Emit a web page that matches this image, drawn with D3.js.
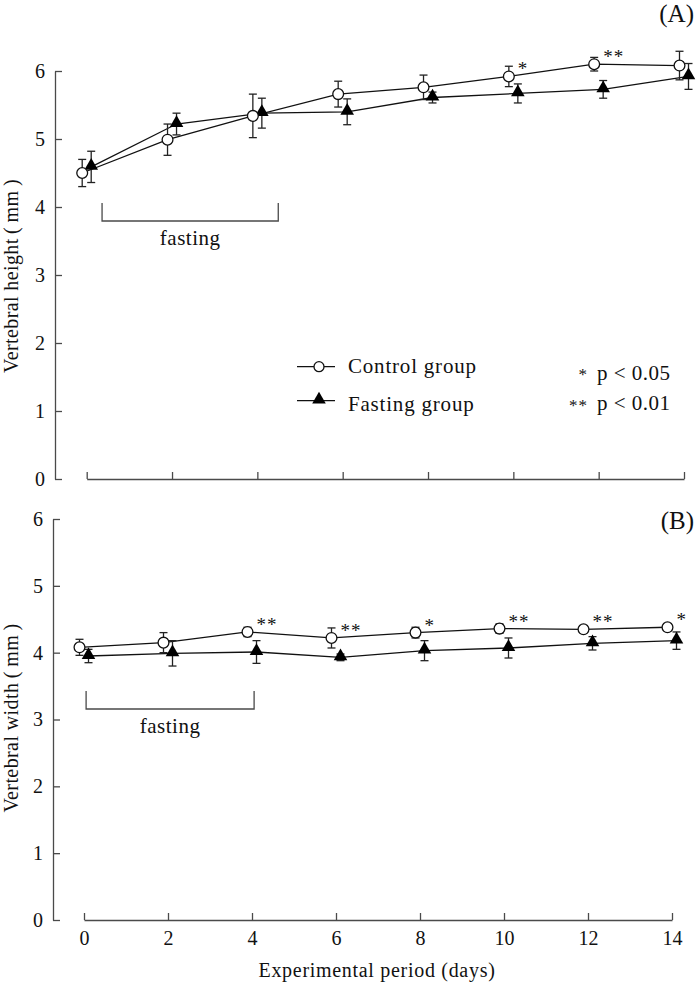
<!DOCTYPE html>
<html><head><meta charset="utf-8">
<script src="https://cdn.jsdelivr.net/npm/d3@7"></script>
<style>
body{margin:0;background:#fff;}
text{font-family:"Liberation Serif","Times New Roman",serif;fill:#111;}
</style></head>
<body><svg id="chart" width="696" height="983"></svg>
<script>
// ---------- data ----------
const days = [0, 2, 4, 6, 8, 10, 12, 14];
const yTickValues = [0, 1, 2, 3, 4, 5, 6];

const heightControl    = [4.50, 4.99, 5.34, 5.66, 5.76, 5.92, 6.10, 6.08];
const heightControlErr = [0.20, 0.23, 0.32, 0.19, 0.18, 0.15, 0.10, 0.21];
const heightFasting    = [4.59, 5.22, 5.38, 5.40, 5.61, 5.67, 5.73, 5.92];
const heightFastingErr = [0.23, 0.16, 0.22, 0.19, 0.08, 0.14, 0.13, 0.19];
const heightSig        = ["", "", "", "", "", "*", "**", ""];

const widthControl     = [4.08, 4.15, 4.31, 4.22, 4.30, 4.36, 4.35, 4.38];
const widthControlErr  = [0.12, 0.15, 0.07, 0.15, 0.08, 0.07, 0.05, 0.05];
const widthFasting     = [3.95, 3.99, 4.01, 3.93, 4.03, 4.07, 4.14, 4.18];
const widthFastingErr  = [0.10, 0.19, 0.17, 0.05, 0.15, 0.15, 0.10, 0.13];
const widthSig         = ["", "", "**", "**", "*", "**", "**", "*"];

const seriesNames = ["Control group", "Fasting group"];
const pLabels = [["*", "p < 0.05"], ["**", "p < 0.01"]];

// ---------- drawing ----------
const svg = d3.select("#chart");
const AXIS = "#4a4a4a";
const OFF = 4.5;

function panel(cfg) {
  const g = svg.append("g");
  const x = d3.scaleLinear().domain([0, 14]).range(cfg.xr);
  const y = d3.scaleLinear().domain([0, 6]).range(cfg.yr);

  // y axis
  const ya = g.append("g").attr("transform", `translate(${cfg.ax},0)`)
    .call(d3.axisLeft(y).tickValues(yTickValues).tickSizeInner(-7).tickSizeOuter(0).tickPadding(10).tickFormat(d3.format("d")));
  ya.selectAll("path,line").attr("stroke", AXIS).attr("stroke-width", 1.3);
  ya.selectAll("text").attr("font-size", 20).style("font-family", "Liberation Serif").attr("fill", "#111");

  // x axis
  const xa = g.append("g").attr("transform", `translate(0,${cfg.yr[0]})`)
    .call(d3.axisBottom(x).tickValues(days).tickSizeInner(-7).tickSizeOuter(0).tickPadding(11)
      .tickFormat(cfg.xlabels ? d3.format("d") : ""));
  xa.selectAll("path,line").attr("stroke", AXIS).attr("stroke-width", 1.3);
  xa.selectAll("text").attr("font-size", 20).style("font-family", "Liberation Serif").attr("fill", "#111");

  const ctrl = days.map((d, i) => ({d, v: cfg.c[i], e: cfg.ce[i], s: cfg.sig[i], px: x(d) - OFF}));
  const fast = days.map((d, i) => ({d, v: cfg.f[i], e: cfg.fe[i], px: x(d) + OFF}));

  const line = d3.line().x(p => p.px).y(p => y(p.v));
  [ctrl, fast].forEach(s => g.append("path").datum(s).attr("d", line)
    .attr("fill", "none").attr("stroke", "#111").attr("stroke-width", 1.3));

  // error bars
  [ctrl, fast].forEach(s => {
    const eb = g.append("g").selectAll("g").data(s).join("g");
    eb.append("line").attr("x1", p => p.px).attr("x2", p => p.px)
      .attr("y1", p => y(p.v - p.e)).attr("y2", p => y(p.v + p.e));
    eb.append("line").attr("x1", p => p.px - 4).attr("x2", p => p.px + 4)
      .attr("y1", p => y(p.v + p.e)).attr("y2", p => y(p.v + p.e));
    eb.append("line").attr("x1", p => p.px - 4).attr("x2", p => p.px + 4)
      .attr("y1", p => y(p.v - p.e)).attr("y2", p => y(p.v - p.e));
    eb.selectAll("line").attr("stroke", "#222").attr("stroke-width", 1.3);
  });

  // markers
  g.append("g").selectAll("path").data(fast).join("path")
    .attr("transform", p => `translate(${p.px},${y(p.v) - 1})`)
    .attr("d", d3.symbol(d3.symbolTriangle, 80)).attr("fill", "#000");
  g.append("g").selectAll("circle").data(ctrl).join("circle")
    .attr("cx", p => p.px).attr("cy", p => y(p.v)).attr("r", 5.4)
    .attr("fill", "#fff").attr("stroke", "#111").attr("stroke-width", 1.3);

  // significance stars
  g.append("g").selectAll("text").data(ctrl.filter(p => p.s)).join("text")
    .attr("x", p => p.px + 9).attr("y", p => y(p.v) - 1)
    .attr("font-size", 19).attr("fill", "#444").style("letter-spacing", "1px").text(p => p.s);

  // fasting bracket
  const b0 = x(cfg.br[0]), b1 = x(cfg.br[1]);
  g.append("path").attr("d", `M${b0},${cfg.by}V${cfg.by + 18}H${b1}V${cfg.by}`)
    .attr("fill", "none").attr("stroke", AXIS).attr("stroke-width", 1.3);
  g.append("text").attr("x", (b0 + b1) / 2).attr("y", cfg.by + 42).attr("text-anchor", "middle")
    .attr("font-size", 21).style("letter-spacing", "0.5px").text("fasting");

  // panel letter
  g.append("text").attr("x", 694).attr("y", cfg.ly).attr("text-anchor", "end")
    .attr("font-size", 25).text(cfg.letter);

  // y title
  g.append("text").attr("transform", `translate(18,${cfg.tc}) rotate(-90)`).attr("text-anchor", "middle")
    .attr("font-size", 20).style("letter-spacing", "0.4px").text(cfg.title);

  return {x, y};
}

panel({xr: [86.7, 684], yr: [479, 71], ax: 55, c: heightControl, ce: heightControlErr,
  f: heightFasting, fe: heightFastingErr, sig: heightSig, xlabels: false,
  br: [0.36, 4.49], by: 203, letter: "(A)", ly: 22, title: "Vertebral height\u2009(\u2009mm\u2009)", tc: 276});
panel({xr: [84, 672], yr: [920, 519], ax: 53, c: widthControl, ce: widthControlErr,
  f: widthFasting, fe: widthFastingErr, sig: widthSig, xlabels: true,
  br: [0.05, 4.05], by: 691, letter: "(B)", ly: 529, title: "Vertebral width\u2009(\u2009mm\u2009)", tc: 718});

// x title
svg.append("text").attr("x", 377).attr("y", 977).attr("text-anchor", "middle")
  .attr("font-size", 20).style("letter-spacing", "0.7px").text("Experimental period (days)");

// legend
const lg = svg.append("g");
const legY = [366.7, 400.7];
const legBase = [373.3, 410.7];
seriesNames.forEach((name, i) => {
  lg.append("line").attr("x1", 297).attr("x2", 335).attr("y1", legY[i]).attr("y2", legY[i])
    .attr("stroke", "#111").attr("stroke-width", 1.3);
  if (i === 0) {
    lg.append("circle").attr("cx", 319).attr("cy", legY[i]).attr("r", 5)
      .attr("fill", "#fff").attr("stroke", "#111").attr("stroke-width", 1.3);
  } else {
    lg.append("path").attr("transform", `translate(319,${legY[i] - 1})`)
      .attr("d", d3.symbol(d3.symbolTriangle, 80)).attr("fill", "#000");
  }
  lg.append("text").attr("x", 348).attr("y", legBase[i]).attr("font-size", 21)
    .style("letter-spacing", "0.8px").text(name);
});
pLabels.forEach((pl, i) => {
  lg.append("text").attr("x", 588).attr("y", [380, 411][i]).attr("text-anchor", "end")
    .attr("font-size", 17).attr("fill", "#444").style("letter-spacing", "1px").text(pl[0]);
  lg.append("text").attr("x", 597).attr("y", [380, 410][i]).attr("font-size", 21)
    .style("letter-spacing", "0.5px").text(pl[1]);
});
</script></body></html>
